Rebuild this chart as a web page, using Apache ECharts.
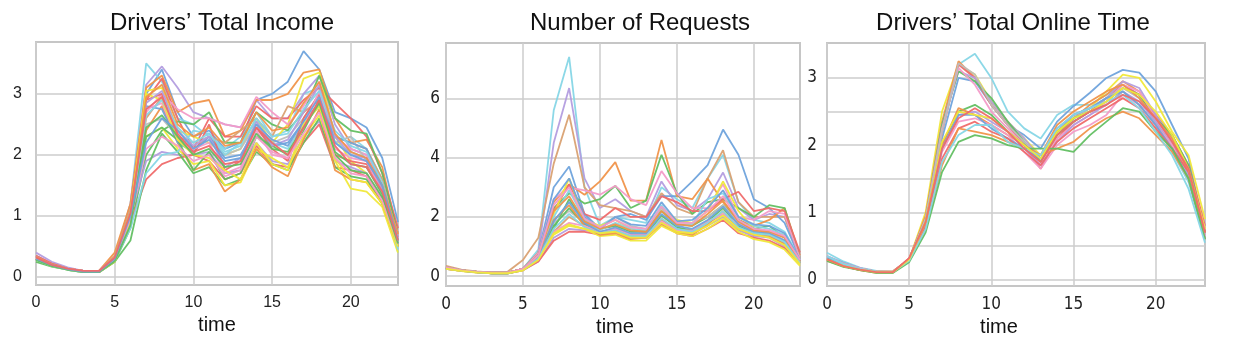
<!DOCTYPE html>
<html>
<head>
<meta charset="utf-8">
<script src="https://cdn.jsdelivr.net/npm/echarts@6/dist/echarts.min.js"></script>
<style>
  html, body { margin: 0; padding: 0; background: #fff; }
  #chart { width: 1245px; height: 347px; }
</style>
</head>
<body>
<div id="chart"></div>
<script>
// hours of the day
var hours = [0,1,2,3,4,5,6,7,8,9,10,11,12,13,14,15,16,17,18,19,20,21,22,23];

var titles = ["Drivers\u2019 Total Income", "Number of Requests", "Drivers\u2019 Total Online Time"];

// tick labels
var incomeTicks = [0, 1, 2, 3];
var requestTicks = [0, 2, 4, 6];
var onlineTicks = [0, 1, 2, 3];
var onlineGridTicks = [0, 0.5, 1, 1.5, 2, 2.5, 3];

// Drivers' total income, one row per driver group
var incomeLines = [
  [0.3,0.2,0.14,0.1,0.1,0.3,1.1,3.0,3.4,2.7,2.3,2.4,2.1,2.2,2.9,3.0,3.2,3.7,3.4,2.7,2.6,2.45,1.95,0.9],
  [0.3,0.2,0.13,0.1,0.1,0.3,1.2,3.5,3.2,2.6,2.5,2.3,2.1,2.3,2.7,2.3,2.4,3.0,3.1,2.2,2.3,2.1,1.6,0.4],
  [0.4,0.25,0.16,0.1,0.1,0.3,1.2,3.15,3.45,3.1,2.7,2.6,2.5,2.45,2.9,2.6,2.6,3.0,3.3,2.5,2.1,2.0,1.5,0.6],
  [0.35,0.22,0.14,0.1,0.1,0.4,1.2,3.1,3.3,2.7,2.85,2.9,2.3,2.4,2.9,2.9,3.0,3.35,3.4,2.6,2.2,2.25,1.8,0.7],
  [0.3,0.2,0.13,0.1,0.1,0.3,1.0,2.9,3.25,2.6,2.1,2.6,2.3,2.3,2.8,2.6,2.6,2.9,3.1,2.85,2.6,2.3,1.7,0.8],
  [0.3,0.2,0.13,0.09,0.08,0.3,1.0,3.05,3.1,2.4,2.3,2.2,2.0,2.1,2.6,2.2,2.5,3.25,3.35,2.3,1.9,1.7,1.3,0.6],
  [0.3,0.2,0.13,0.09,0.08,0.25,0.8,2.0,2.4,2.55,2.5,2.7,2.2,2.2,2.7,2.5,2.4,2.7,3.3,2.6,2.4,2.35,1.7,0.7],
  [0.35,0.22,0.14,0.1,0.1,0.3,1.0,2.7,3.0,2.75,2.6,2.6,2.5,2.45,2.95,2.7,2.5,2.8,3.2,2.3,2.1,2.0,1.5,0.7],
  [0.3,0.2,0.13,0.1,0.1,0.35,1.1,2.6,2.95,2.3,2.1,2.3,2.2,2.4,2.6,2.3,2.8,2.7,2.9,2.3,2.2,2.1,1.6,0.6],
  [0.3,0.2,0.13,0.09,0.09,0.3,1.0,2.5,2.6,2.3,2.2,2.3,2.0,2.1,2.5,2.2,2.3,2.6,3.0,2.2,2.3,1.9,1.5,0.5],
  [0.35,0.22,0.14,0.1,0.1,0.3,1.0,1.9,2.05,2.0,2.0,2.05,1.7,1.75,2.2,1.9,1.85,2.3,2.55,1.9,1.8,1.7,1.3,0.5],
  [0.3,0.2,0.13,0.09,0.09,0.28,0.9,1.6,1.85,1.95,2.0,1.9,1.6,1.7,2.15,1.85,1.8,2.2,2.5,1.8,1.75,1.65,1.2,0.55],
  [0.25,0.17,0.12,0.08,0.08,0.25,0.6,1.75,2.35,2.05,1.7,1.8,1.5,1.6,2.05,1.85,1.75,2.2,2.6,1.8,1.65,1.6,1.2,0.5],
  [0.28,0.18,0.12,0.08,0.08,0.25,0.9,2.3,2.45,2.1,1.85,1.9,1.5,1.55,2.1,1.95,1.8,2.3,2.65,1.9,1.45,1.4,1.15,0.4],
  [0.3,0.2,0.13,0.09,0.08,0.3,1.0,2.4,2.8,2.2,1.75,1.85,1.4,1.6,2.1,1.8,1.65,2.25,2.75,1.75,1.6,1.55,1.2,0.5],
  [0.28,0.18,0.12,0.08,0.08,0.27,0.8,1.7,2.0,2.05,2.4,2.35,2.0,2.2,2.55,2.2,2.1,2.5,2.8,2.2,2.05,1.95,1.45,0.45],
  [0.3,0.2,0.13,0.09,0.09,0.3,1.0,2.8,2.75,2.2,2.05,2.3,1.95,2.0,2.45,2.15,2.2,2.55,2.85,2.3,2.2,2.1,1.5,0.55],
  [0.35,0.22,0.14,0.1,0.1,0.3,1.0,2.9,3.0,2.3,2.0,2.5,1.75,1.9,2.45,2.1,1.9,2.6,3.0,2.0,1.9,1.85,1.45,0.65],
  [0.3,0.2,0.13,0.09,0.09,0.3,1.0,2.3,2.45,2.25,1.75,2.05,1.6,1.7,2.3,2.15,2.0,2.4,2.9,2.0,1.75,1.7,1.3,0.6],
  [0.32,0.2,0.14,0.1,0.1,0.3,1.0,2.75,2.85,2.25,2.1,2.2,1.7,1.8,2.4,2.0,1.95,2.45,3.05,2.1,1.95,1.9,1.4,0.7],
  [0.3,0.2,0.13,0.09,0.08,0.3,1.05,3.0,2.9,2.25,2.0,1.95,1.75,1.6,2.2,1.85,1.75,2.5,2.8,1.95,1.6,1.55,1.2,0.5],
  [0.33,0.2,0.14,0.1,0.1,0.3,1.0,2.85,3.05,2.4,2.15,2.3,1.8,1.95,2.55,2.15,2.25,2.7,3.15,2.3,2.0,1.95,1.45,0.65],
  [0.3,0.2,0.13,0.09,0.09,0.3,1.0,2.65,2.9,2.45,2.2,2.35,2.05,2.15,2.6,2.3,2.35,2.75,3.05,2.4,2.15,2.05,1.55,0.6],
  [0.33,0.21,0.14,0.1,0.1,0.3,1.0,2.95,3.15,2.5,2.3,2.45,2.15,2.2,2.7,2.4,2.45,2.85,3.2,2.35,2.05,1.95,1.5,0.7],
  [0.3,0.2,0.13,0.09,0.08,0.28,0.95,2.1,2.3,2.15,1.9,2.0,1.65,1.75,2.3,2.05,1.95,2.35,2.7,1.95,1.7,1.65,1.25,0.55],
  [0.28,0.18,0.12,0.08,0.08,0.26,0.85,2.45,2.65,2.3,2.0,2.1,1.8,1.85,2.35,2.1,2.05,2.45,2.85,2.05,1.85,1.8,1.35,0.55],
  [0.3,0.2,0.13,0.09,0.09,0.3,1.0,2.2,2.6,2.4,2.1,2.25,1.9,1.95,2.5,2.25,2.15,2.55,2.95,2.2,2.0,1.9,1.5,0.6],
  [0.32,0.2,0.14,0.1,0.1,0.32,1.05,2.75,2.95,2.35,2.05,2.15,1.85,1.9,2.45,2.2,2.0,2.45,2.9,2.15,1.85,1.8,1.4,0.6]
];

// Number of requests
var requestLines = [
  [0.3,0.2,0.15,0.12,0.12,0.25,0.9,5.6,7.4,3.0,1.7,2.0,1.9,1.8,3.0,2.6,2.3,3.3,4.1,2.5,1.9,1.8,1.5,0.6],
  [0.3,0.2,0.15,0.12,0.12,0.25,0.8,4.5,6.35,3.3,2.3,2.6,2.2,2.0,3.2,2.4,2.2,2.6,3.5,2.3,1.9,2.1,2.0,0.7],
  [0.35,0.22,0.16,0.12,0.15,0.55,1.3,3.8,5.45,3.0,2.4,2.3,2.2,2.0,2.8,2.3,2.1,3.3,4.25,2.5,2.0,2.0,2.0,0.6],
  [0.3,0.2,0.15,0.12,0.12,0.25,0.8,3.0,3.7,2.1,1.6,2.0,2.1,1.9,2.7,2.7,3.2,3.75,4.95,4.1,2.6,2.3,1.8,0.6],
  [0.3,0.2,0.15,0.12,0.12,0.25,0.8,2.5,3.1,2.75,3.2,3.85,2.55,2.55,4.6,2.7,2.6,3.3,2.5,1.9,1.7,1.9,2.3,0.7],
  [0.3,0.2,0.15,0.12,0.12,0.25,0.8,2.3,2.8,2.45,2.6,3.05,2.3,2.55,4.1,2.8,2.1,2.5,2.6,2.3,2.0,2.4,2.3,0.6],
  [0.3,0.2,0.15,0.12,0.12,0.25,0.8,2.6,3.0,2.9,2.75,3.05,2.6,2.4,3.55,2.8,2.3,2.3,3.1,2.0,1.9,2.2,2.1,0.6],
  [0.3,0.2,0.15,0.12,0.12,0.25,0.7,2.2,3.1,2.1,1.9,2.3,2.0,2.0,2.7,2.5,2.2,2.2,2.6,2.85,2.2,2.3,2.2,0.8],
  [0.3,0.2,0.15,0.12,0.12,0.25,0.7,2.1,3.3,1.9,1.7,1.9,1.6,1.5,2.3,1.9,1.8,2.2,3.2,2.2,1.6,1.5,1.4,0.5],
  [0.25,0.18,0.13,0.1,0.1,0.22,0.6,1.6,2.6,1.8,1.6,1.7,1.5,1.5,2.2,1.75,1.7,2.0,2.4,1.9,1.6,1.7,1.3,0.45],
  [0.28,0.2,0.14,0.1,0.1,0.22,0.6,1.8,2.2,1.8,1.6,2.0,1.7,1.6,2.3,1.8,1.8,2.0,2.4,1.8,1.6,1.5,1.3,0.5],
  [0.3,0.2,0.15,0.12,0.12,0.25,0.6,1.5,2.0,1.7,1.5,1.5,1.4,1.35,1.9,1.6,1.5,1.8,2.1,1.7,1.45,1.4,1.1,0.45],
  [0.25,0.18,0.13,0.1,0.1,0.2,0.5,1.3,1.6,1.55,1.5,1.6,1.4,1.35,1.8,1.5,1.45,1.7,2.0,1.55,1.35,1.3,1.0,0.4],
  [0.25,0.18,0.13,0.1,0.1,0.2,0.5,1.2,1.5,1.5,1.4,1.5,1.3,1.3,1.75,1.45,1.35,1.6,1.9,1.45,1.3,1.2,0.95,0.45],
  [0.25,0.17,0.12,0.1,0.1,0.2,0.6,1.4,1.7,1.6,1.35,1.4,1.2,1.2,1.7,1.45,1.35,1.6,1.95,1.5,1.25,1.15,0.9,0.35],
  [0.28,0.19,0.14,0.1,0.1,0.22,0.6,1.7,2.3,1.75,1.45,1.55,1.35,1.4,2.05,1.65,1.55,1.85,2.3,1.7,1.45,1.45,1.2,0.5],
  [0.3,0.2,0.15,0.12,0.12,0.25,0.7,2.0,2.9,1.9,1.55,1.8,1.6,1.55,2.4,1.7,1.75,2.6,2.8,2.0,1.7,1.6,1.4,0.55],
  [0.28,0.2,0.14,0.1,0.1,0.22,0.6,1.9,2.4,1.7,1.4,1.45,1.25,1.3,1.95,1.5,1.4,1.75,2.2,1.6,1.4,1.35,1.1,0.5],
  [0.3,0.2,0.15,0.12,0.12,0.25,0.6,1.5,1.8,1.7,1.5,1.6,1.4,1.4,1.85,1.55,1.55,1.85,2.1,1.75,1.55,1.5,1.2,0.5],
  [0.3,0.2,0.15,0.12,0.12,0.25,0.7,2.6,3.3,2.0,1.6,2.0,1.75,1.7,2.5,1.85,1.9,2.3,2.9,2.0,1.75,1.7,1.45,0.55],
  [0.28,0.19,0.14,0.1,0.1,0.22,0.65,1.85,2.5,1.8,1.5,1.65,1.45,1.45,2.1,1.7,1.6,1.9,2.35,1.75,1.5,1.45,1.2,0.5],
  [0.3,0.2,0.15,0.12,0.12,0.25,0.7,2.2,2.7,1.85,1.6,1.75,1.55,1.5,2.2,1.75,1.7,2.1,2.55,1.85,1.55,1.5,1.3,0.5],
  [0.27,0.19,0.14,0.1,0.1,0.22,0.6,1.6,2.1,1.65,1.45,1.55,1.35,1.35,1.95,1.6,1.5,1.8,2.2,1.65,1.45,1.4,1.15,0.45],
  [0.3,0.2,0.15,0.12,0.12,0.25,0.7,2.4,3.0,1.95,1.65,1.9,1.65,1.6,2.35,1.8,1.8,2.2,2.7,1.9,1.6,1.55,1.35,0.55],
  [0.26,0.18,0.13,0.1,0.1,0.2,0.55,1.45,1.75,1.6,1.45,1.5,1.3,1.3,1.8,1.5,1.45,1.7,2.05,1.6,1.4,1.3,1.05,0.4]
];

// Drivers' total online time
var onlineLines = [
  [0.4,0.27,0.18,0.13,0.12,0.3,0.9,2.2,3.2,3.36,3.0,2.5,2.25,2.1,2.45,2.6,2.6,2.75,2.9,2.75,2.3,1.9,1.45,0.6],
  [0.35,0.25,0.17,0.12,0.12,0.3,0.9,2.1,3.0,2.95,2.6,2.3,2.15,1.95,2.35,2.58,2.78,3.0,3.12,3.08,2.8,2.3,1.8,0.7],
  [0.3,0.22,0.16,0.12,0.12,0.3,1.0,2.5,3.2,3.05,2.65,2.35,2.1,1.85,2.2,2.4,2.55,2.8,3.05,3.0,2.65,2.2,1.85,0.9],
  [0.32,0.22,0.16,0.12,0.12,0.3,0.95,2.35,3.25,3.0,2.6,2.3,2.05,1.75,2.15,2.4,2.6,2.75,2.95,2.8,2.4,2.05,1.6,0.75],
  [0.3,0.2,0.15,0.11,0.11,0.32,0.9,2.2,3.2,3.0,2.6,2.3,2.0,1.65,2.1,2.35,2.5,2.7,2.9,2.75,2.45,2.15,1.7,0.8],
  [0.33,0.23,0.16,0.12,0.11,0.3,0.9,2.3,3.1,3.0,2.65,2.35,2.1,1.8,2.2,2.45,2.55,2.7,2.95,2.85,2.45,2.1,1.65,0.7],
  [0.3,0.2,0.15,0.11,0.11,0.3,0.9,2.3,3.1,2.95,2.7,2.35,2.05,1.75,2.15,2.35,2.5,2.65,2.85,2.75,2.4,2.15,1.7,0.7],
  [0.35,0.24,0.17,0.12,0.12,0.3,0.9,2.25,3.15,2.9,2.5,2.25,2.0,1.7,2.1,2.3,2.45,2.65,2.9,2.8,2.4,2.05,1.6,0.75],
  [0.34,0.24,0.16,0.12,0.11,0.3,0.9,2.2,3.22,3.05,2.6,2.3,2.05,1.8,2.2,2.4,2.55,2.7,2.85,2.7,2.35,2.0,1.55,0.65],
  [0.3,0.2,0.15,0.11,0.11,0.3,0.85,2.0,2.5,2.6,2.45,2.2,2.0,1.8,2.2,2.4,2.5,2.6,2.8,2.6,2.3,2.0,1.55,0.6],
  [0.3,0.2,0.15,0.11,0.11,0.3,0.85,2.0,2.55,2.45,2.3,2.15,2.0,1.85,2.3,2.5,2.65,2.8,2.9,2.7,2.4,2.1,1.6,0.7],
  [0.32,0.22,0.15,0.11,0.11,0.28,0.8,1.95,2.45,2.5,2.35,2.2,1.95,1.7,2.05,2.3,2.45,2.6,2.8,2.65,2.35,2.0,1.55,0.65],
  [0.3,0.2,0.15,0.11,0.11,0.28,0.8,1.9,2.35,2.4,2.3,2.15,1.9,1.65,2.0,2.2,2.3,2.45,2.75,2.6,2.3,2.0,1.5,0.65],
  [0.32,0.22,0.15,0.11,0.11,0.28,0.8,1.95,2.45,2.45,2.25,2.1,1.95,1.8,2.25,2.45,2.55,2.7,2.8,2.6,2.3,1.95,1.5,0.6],
  [0.3,0.2,0.14,0.11,0.11,0.3,0.8,1.8,2.25,2.35,2.2,2.1,1.9,1.7,2.05,2.25,2.4,2.55,2.7,2.55,2.25,1.95,1.6,0.7],
  [0.28,0.2,0.14,0.1,0.1,0.28,0.75,1.7,2.25,2.2,2.15,2.05,1.95,1.85,1.95,2.05,2.25,2.4,2.5,2.4,2.15,1.9,1.5,0.6],
  [0.28,0.19,0.14,0.1,0.1,0.26,0.7,1.6,2.05,2.15,2.1,2.0,1.95,1.95,1.95,1.9,2.15,2.35,2.55,2.5,2.2,1.95,1.5,0.6],
  [0.35,0.23,0.16,0.12,0.11,0.28,0.75,1.75,2.15,2.3,2.3,2.05,1.95,1.85,2.25,2.45,2.55,2.65,2.75,2.55,2.2,1.85,1.35,0.55],
  [0.3,0.2,0.15,0.11,0.11,0.3,0.85,2.05,2.5,2.45,2.4,2.2,2.0,1.8,2.2,2.4,2.5,2.65,2.85,2.75,2.5,2.15,1.65,0.75],
  [0.3,0.2,0.15,0.11,0.11,0.32,0.85,1.95,2.4,2.55,2.4,2.2,1.95,1.75,2.15,2.35,2.5,2.6,2.75,2.65,2.4,2.05,1.65,0.7]
];

var BLUE = "#6fa3dc", CYAN = "#86d6e6", PURPLE = "#b39ddf", ORANGE = "#f0944a",
    RED = "#ef6a6a", YELLOW = "#f0e83a", GREEN = "#62bf62", PINK = "#f39bc8",
    BROWN = "#d9a172", GRAY = "#bdbdbd";

var incomeColors = [BLUE, CYAN, PURPLE, ORANGE, RED, YELLOW, GREEN, PINK, BROWN, GRAY, PURPLE,
  RED, GREEN, YELLOW, ORANGE, CYAN, BLUE, RED, GREEN, PINK, YELLOW, PURPLE,
  CYAN, ORANGE, PINK, GREEN, BLUE, RED];
var requestColors = [CYAN, PURPLE, BROWN, BLUE, ORANGE, GREEN, PINK, RED, YELLOW, GREEN, GRAY,
  BROWN, PURPLE, RED, YELLOW, GREEN, CYAN, ORANGE, PINK, BLUE,
  BLUE, ORANGE, CYAN, PINK, YELLOW];
var onlineColors = [CYAN, BLUE, YELLOW, ORANGE, RED, PURPLE, GREEN, PINK, GRAY, GREEN, ORANGE,
  PURPLE, PINK, BLUE, RED, ORANGE, GREEN, CYAN, YELLOW, RED];

var myChart = echarts.init(document.getElementById("chart"));

var gridLine = { color: "#cdcdcd", width: 1.5 };
var narrow = "'Liberation Sans Narrow', 'DejaVu Sans Condensed', sans-serif";
var plain = "'Liberation Sans', Arial, sans-serif";

function makeX(idx, font, size, namePad) {
  return {
    gridIndex: idx,
    type: "category",
    data: hours,
    boundaryGap: false,
    name: "time",
    nameLocation: "middle",
    nameGap: 26,
    nameTextStyle: { fontSize: 20, color: "#111", fontFamily: plain, padding: namePad },
    axisLine: { show: false },
    axisTick: { show: false },
    axisLabel: { interval: 4, fontSize: size, color: "#222", margin: 10, fontFamily: font },
    splitLine: { show: true, interval: 4, lineStyle: gridLine }
  };
}

function makeY(idx, min, max, labels, lines, font, size, margin, pad) {
  return {
    gridIndex: idx,
    type: "value",
    min: min,
    max: max,
    axisLine: { show: false },
    axisTick: { show: false, customValues: lines },
    axisLabel: { customValues: labels, fontSize: size, color: "#222", margin: margin,
      fontFamily: font, padding: pad },
    splitLine: { show: true, lineStyle: gridLine }
  };
}

function makeSeries(idx, rows, colors) {
  return rows.map(function (row, i) {
    return {
      type: "line",
      xAxisIndex: idx,
      yAxisIndex: idx,
      data: row,
      symbol: "none",
      silent: true,
      lineStyle: { width: 1.8, color: colors[i], opacity: 0.95 }
    };
  });
}

var gridBox = { show: true, borderColor: "#c6c6c6", borderWidth: 2, backgroundColor: "#fff" };
var titleStyle = { fontSize: 24, fontWeight: "normal", color: "#111", fontFamily: plain };

var options = {
  backgroundColor: "#fff",
  animation: false,
  title: [
    { text: titles[0], left: 217, top: 6, textAlign: "center", textStyle: titleStyle },
    { text: titles[1], left: 635, top: 6, textAlign: "center", textStyle: titleStyle },
    { text: titles[2], left: 1008, top: 6, textAlign: "center", textStyle: titleStyle }
  ],
  grid: [
    Object.assign({ left: 36, top: 42, width: 362, height: 243 }, gridBox),
    Object.assign({ left: 446, top: 43, width: 354, height: 243 }, gridBox),
    Object.assign({ left: 827, top: 43, width: 378, height: 243 }, gridBox)
  ],
  xAxis: [
    makeX(0, plain, 16, [0, 0, 0, 0]),
    makeX(1, narrow, 17, [0, 16, 0, 0]),
    makeX(2, narrow, 17, [0, 34, 0, 0])
  ],
  yAxis: [
    makeY(0, -0.13, 3.85, incomeTicks, incomeTicks, plain, 16, 14, [0, 0, 0, 0]),
    makeY(1, -0.33, 7.87, requestTicks, requestTicks, narrow, 17, 6, [0, 0, 0, 0]),
    makeY(2, -0.095, 3.52, onlineTicks, onlineGridTicks, narrow, 17, 10, [7, 0, 0, 0])
  ],
  series: []
    .concat(makeSeries(0, incomeLines, incomeColors))
    .concat(makeSeries(1, requestLines, requestColors))
    .concat(makeSeries(2, onlineLines, onlineColors))
};

myChart.setOption(options);
</script>
</body>
</html>
